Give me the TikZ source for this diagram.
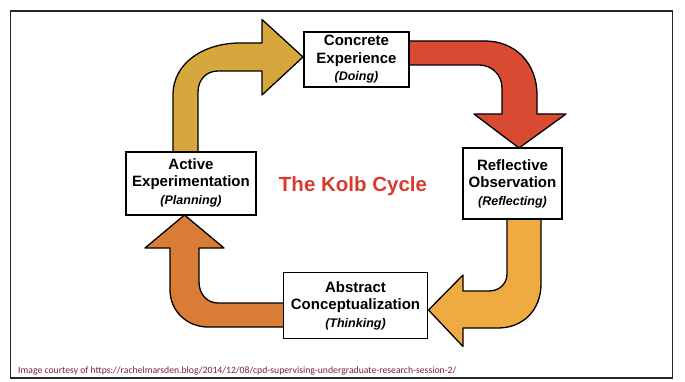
\documentclass[tikz,border=0pt]{standalone}
\usepackage{fontspec}
\setmainfont{Liberation Sans}
\newfontfamily\capfont{Carlito}
\definecolor{cgold}{HTML}{D5A73D}
\definecolor{cred}{HTML}{D94A32}
\definecolor{cyel}{HTML}{F0AA42}
\definecolor{corg}{HTML}{D97C36}
\definecolor{ctitle}{HTML}{D63A30}
\definecolor{ccap}{HTML}{7A1F3D}
\newcommand{\subln}{\fontsize{12.5}{15}\selectfont\bfseries\itshape}
\tikzset{
  stagebox/.style={draw=black, line width=1.3pt, fill=white, inner sep=0pt, align=center,
    font=\fontsize{15}{17.5}\selectfont\bfseries},
  blockarrow/.style={draw=black, line width=1.3pt, line join=round}
}
\begin{document}
\begin{tikzpicture}[x=1pt,y=-1pt]
\useasboundingbox (0,0) rectangle (685,382);
\fill[white] (0,0) rectangle (685,382);
\draw[line width=1.6pt, black!85] (10.5,11) rectangle (672.5,378);

% block arrows
\draw[blockarrow, fill=cgold] (173,156) -- (173,95) .. controls (173,62) and (205,43) .. (240,43)
  -- (262,43) -- (262,19.5) -- (303,57) -- (262,95) -- (262,71) -- (218,71)
  .. controls (206,71) and (198,80) .. (198,92) -- (198,156) -- cycle;
\draw[blockarrow, fill=cred] (404,41) -- (485,41) .. controls (515,41) and (537,63) .. (537,95)
  -- (537,114) -- (566,114) -- (519,148) -- (474,114) -- (502,114) -- (502,88)
  .. controls (502,75) and (492,65) .. (479,65) -- (404,65) -- cycle;
\draw[blockarrow, fill=cyel] (507,215) -- (507,274) .. controls (507,284) and (499,291) .. (489,291)
  -- (463,291) -- (463,275) -- (428.5,310) -- (463,346.5) -- (463,328) -- (498,328)
  .. controls (523,328) and (541,310) .. (541,284) -- (541,215) -- cycle;
\draw[blockarrow, fill=corg] (288,303) -- (218,303) .. controls (207,303) and (199,294) .. (199,282)
  -- (199,248) -- (224,248) -- (184.5,215) -- (145,248) -- (170,248) -- (170,290)
  .. controls (170,311) and (187,327) .. (208,327) -- (288,327) -- cycle;

% stage boxes
\node[stagebox, minimum width=105pt, minimum height=55pt] (ce) at (356.5,59.5)
  {Concrete\\Experience\\{\subln (Doing)}};
\node[stagebox, minimum width=99pt, minimum height=71pt] (ro) at (512.5,183.5)
  {Reflective\\Observation\\{\subln (Reflecting)}};
\node[stagebox, minimum width=144pt, minimum height=66pt] (ac) at (355.5,305.5)
  {Abstract\\Conceptualization\\{\subln (Thinking)}};
\node[stagebox, minimum width=130pt, minimum height=63pt, text depth=4pt] (ae) at (191,183.5)
  {Active\\Experimentation\\{\subln (Planning)}};

\node[anchor=base, font=\fontsize{20.5}{24}\selectfont\bfseries, text=ctitle, inner sep=0pt] (title)
  at (353,191.5) {The Kolb Cycle};

\node[anchor=base west, inner sep=0pt, text=ccap, font=\capfont\fontsize{9.7}{11}\selectfont] (credit)
  at (18,373) {Image courtesy of https://rachelmarsden.blog/2014/12/08/cpd-supervising-undergraduate-research-session-2/};
\end{tikzpicture}
\end{document}
